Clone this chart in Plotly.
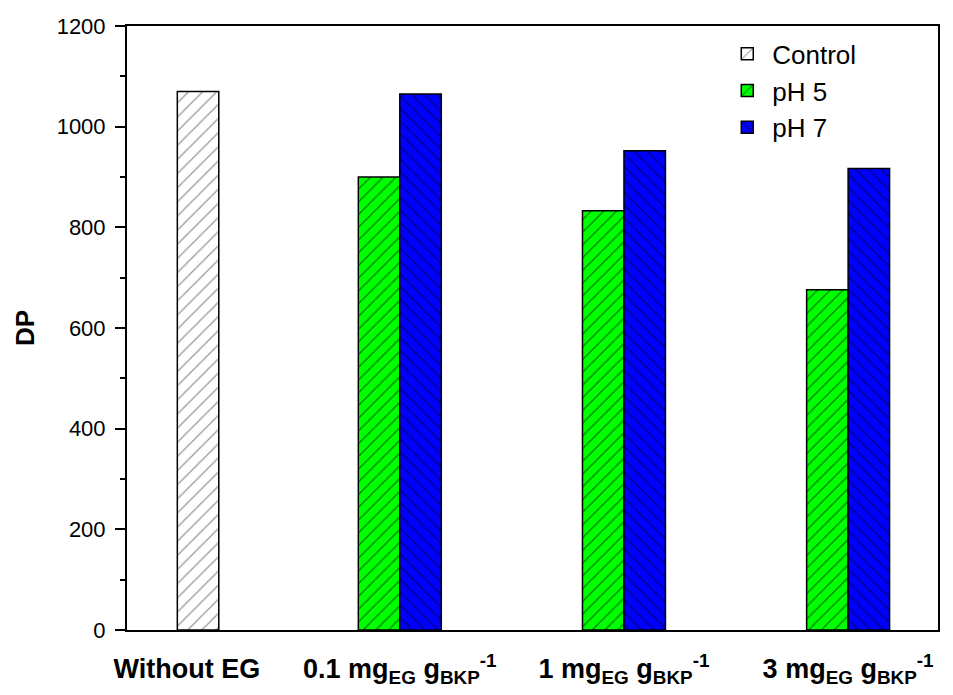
import plotly.graph_objects as go

# ---- data ----
categories = ["Without EG",
              "0.1 mg<sub>EG</sub> g<sub>BKP</sub><sup>-1</sup>",
              "1 mg<sub>EG</sub> g<sub>BKP</sub><sup>-1</sup>",
              "3 mg<sub>EG</sub> g<sub>BKP</sub><sup>-1</sup>"]
category_pos = [1.05, 2, 3, 4]

control_x = [1.1]
control_dp = [1070]

eg_x = [2, 3, 4]
ph5_dp = [900, 833, 676]
ph7_dp = [1065, 952, 917]

yticks = [0, 200, 400, 600, 800, 1000, 1200]

W = 0.185
FONT = "Liberation Sans, Arial, sans-serif"

fig = go.Figure()
fig.add_trace(go.Bar(
    x=control_x, y=control_dp, width=W, name="Control",
    marker=dict(color="white", line=dict(color="black", width=1.5),
                pattern=dict(shape="/", fgcolor="#333", bgcolor="white", size=10, solidity=0.13)),
))
fig.add_trace(go.Bar(
    x=eg_x, y=ph5_dp, width=W, offset=-W, name="pH 5",
    marker=dict(color="#00ff00", line=dict(color="black", width=1.5),
                pattern=dict(shape="/", fgcolor="black", bgcolor="#00ff00", size=9, solidity=0.14)),
))
fig.add_trace(go.Bar(
    x=eg_x, y=ph7_dp, width=W, offset=0, name="pH 7",
    marker=dict(color="#0000ff", line=dict(color="black", width=1.5),
                pattern=dict(shape="\\", fgcolor="black", bgcolor="#0000ff", size=9, solidity=0.14)),
))

# page body has an 8px default margin, so the figure is 8px smaller
fig.update_layout(
    width=945, height=687,
    margin=dict(l=119, r=15, t=18, b=65, autoexpand=False),
    paper_bgcolor="white", plot_bgcolor="white",
    font=dict(family=FONT, color="black"),
    barmode="overlay",
    showlegend=True,
    legend=dict(x=0.734, y=0.993, xanchor="left", yanchor="top",
                font=dict(family=FONT, size=26, color="black"),
                bgcolor="rgba(0,0,0,0)", borderwidth=0, tracegroupgap=0,
                itemwidth=40),
    xaxis=dict(range=[0.783, 4.401], tickvals=category_pos, ticktext=categories,
               showgrid=False, zeroline=False, ticks="", automargin=False,
               showline=True, linecolor="black", linewidth=2, mirror=True,
               ticklabelstandoff=14,
               tickfont=dict(family=FONT, size=27, color="black", weight="bold")),
    yaxis=dict(range=[0, 1200], tickvals=yticks, showgrid=False, zeroline=False,
               ticks="outside", ticklen=10, tickwidth=2, tickcolor="black",
               minor=dict(ticks="outside", ticklen=5, tickwidth=2, tickcolor="black", dtick=100),
               showline=True, linecolor="black", linewidth=2, mirror=True,
               automargin=False,
               tickfont=dict(family=FONT, size=22, color="black"),
               ticklabelstandoff=5,
               title=dict(text="DP", standoff=15,
                          font=dict(family=FONT, size=26, color="black", weight="bold"))),
)

fig.write_html("out.html")
